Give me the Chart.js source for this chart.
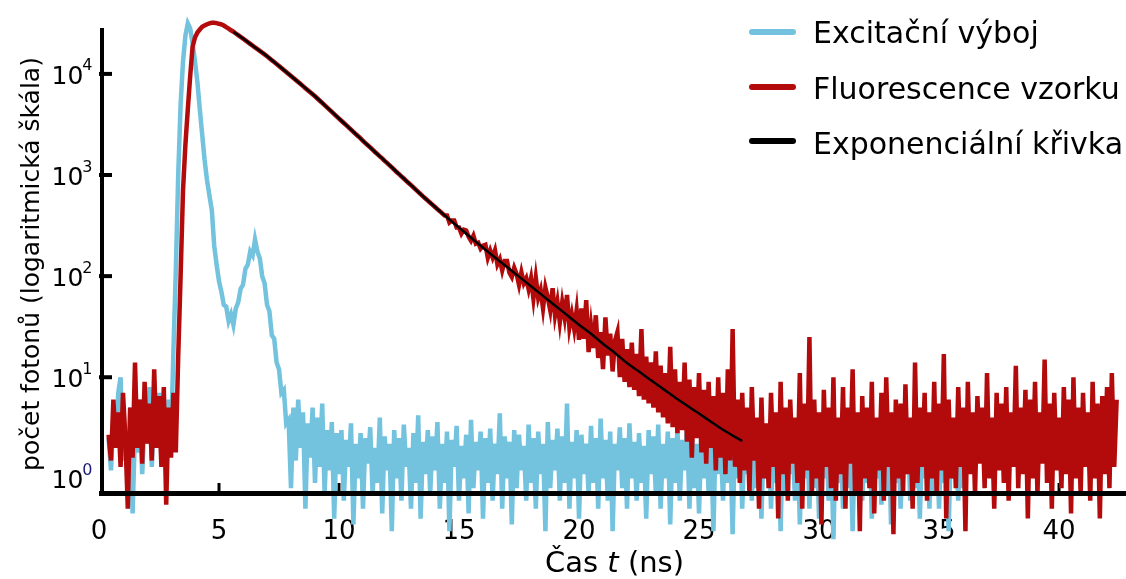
<!DOCTYPE html>
<html>
<head>
<meta charset="utf-8">
<script src="https://cdn.jsdelivr.net/npm/chart.js@4.4.1/dist/chart.umd.min.js"></script>
<style>html,body{margin:0;padding:0;background:#fff}canvas{display:block}</style>
</head>
<body>
<canvas id="c" width="1126" height="579"></canvas>
<script>
// ---- data ----
const timeStart = 0.4;   // ns, first time bin
const timeStep = 0.1;    // ns, bin width
const xTicks = [0, 5, 10, 15, 20, 25, 30, 35, 40];
const yTicks = [1, 10, 100, 1000, 10000];
const seriesLabels = ['Excitační výboj', 'Fluorescence vzorku', 'Exponenciální křivka'];
const xTitleParts = ['Čas ', 't', ' (ns)'];
const yTitle = 'počet fotonů (logaritmická škála)';

// Excitation pulse, 0.4 ns ... 36.2 ns
const excitation = [
 2.5,1.2,4,2,7,10,1.5,3,0.8,5,0.45,3,1.8,6,1.1,4,2.2,8,1.3,5,2,7,1.5,3.5,1,6,2.5,
 18,112,1000,5000,13200,24000,31600,28200,20000,13200,8300,4470,2500,1410,890,630,450,200,130,89,
 70,52,50,36,42,33,48,55,75,82,118,130,175,160,230,175,150,100,85,52,45,26,24,14,12,7,7.5,3.5,3.8,
 0.8,5,1.5,6,2,4.5,0.5,3.5,1.6,5,0.9,4,1.3,5.5,0.7,3,1.2,3.6,0.4,2.8,
 1.1,3,0.6,2.4,1.3,3.5,0.35,2.2,1,2.8,
 0.5,2.5,1.4,3.2,0.7,2,0.9,4,0.45,2.6,
 1.2,2.2,0.3,3,1,2.5,0.6,3.4,1.3,2,
 0.5,2.8,0.9,4.2,0.4,2.3,1.1,3,0.7,2.6,
 1.2,3.6,0.5,2.2,0.9,2.9,0.3,2.4,1.3,3.3,
 0.6,2.1,1,2.7,0.45,3.8,0.8,2.3,1.2,2.9,
 0.4,2.5,0.9,3.1,0.6,2.2,1.1,4.4,0.5,2.6,
 1,2.3,0.35,3,0.8,2.7,1.2,2.1,0.6,3.4,
 0.9,2.5,0.5,2.9,1.1,2.2,0.3,3.6,0.8,2.4,
 1.2,3.1,0.6,2.6,0.9,5.5,0.5,2.3,1,3,
 0.4,2.7,1.1,2.2,0.7,3.3,0.9,2.5,0.5,3.9,
 1,2.4,0.6,2.9,0.3,2.2,1.2,3.2,0.8,2.5,
 0.5,3.5,1,2.3,0.6,2.8,0.9,2.1,0.4,3,
 1.1,2.6,0.7,3.4,0.5,2.2,1,2.9,0.35,2.5,
 0.9,3.1,0.6,2.4,1.2,3.6,0.5,2.7,0.8,2.2,
 0.45,2.9,1,3.3,0.7,2.5,0.3,3,1.1,2.4,
 0.6,3.2,0.9,2.3,0.28,2.8,1,3.5,0.5,2.6,
 1.1,2.4,0.6,3,0.8,2.2,0.4,2.7,1,3.1,
 0.5,2.5,0.9,2.1,0.3,3.3,0.7,2.6,1.1,2.3,
 0.6,2.9,0.35,2.2,1,3.5,0.5,2.4,0.8,2.8,
 0.4,2.6,1,3.2,0.6,2.3,0.25,2.9,0.9,2.5,
 0.5,3.4,0.8,2.2,0.3,2.7,1.1,3,0.6,2.4,
 0.9,2.8,0.4,2.5,1,3.6,0.55,2.2,0.7,3.1,
 0.35,2.4,0.9,2.9,0.5,2.3,1.1,3.3,0.6,2.6,
 0.8,3,0.4,2.5,1,2.2,0.5,3.4,0.7,2.7,
 0.5,2.4,0.9,3.1,0.3,2.6,1,2.2,0.6,2.9,
 0.8,2.3,1.2
];

// Sample fluorescence, 0.4 ns ... 42.4 ns
const fluorescence = [
 2.7,1.5,6,2,4.5,1.3,7,2.5,0.5,5,1.6,14,2,6,1.4,9,2.2,5.5,1.5,12,2,6.5,1.3,8,0.55,5,1.6,7,1.8,
 16,100,700,2000,4470,9550,18600,22900,25700,27500,29200,30200,31000,31600,32000,32100,31800,31300,30900,30100,29000,28050,27000,
 26120,25120,24150,23230,22390,21480,20650,19820,19050,18280,
 17580,16900,16220,15600,14960,14320,13680,13090,12500,11970,
 11430,10910,10450,9980,9530,9100,8690,8300,7930,7570,
 7230,6900,6590,6300,6010,5710,5430,5160,4910,4670,
 4440,4220,4010,3810,3620,3440,3270,3110,2960,2810,
 2670,2540,2420,2300,2180,2070,1970,1880,1780,1690,
 1610,1530,1460,1380,1320,1250,1190,1130,1070,1020,
 970,923,877,834,793,753,716,681,647,615,
 586,558,532,507,483,460,439,418,398,
 398,339,355,355,302,302,263,288,282,245,224,251,209,214,187,200,
 204,152,179,153,180,131,147,114,141,141,108,98,121,105,82,109,85,95,74,
 95,60,96,61,73,48,77,61,46,76,41,56,35,55,39,65,31,42,30,46,
 23.4,48,24,58,17.7,32,19.5,41,15.5,28,12,39,16.4,27,11.4,23,
 28,10,24,9,19,8,22,7.5,17,6.5,30,6,16,5.5,14,5,18,4.5,13,4,
 11,3.5,20,3.2,12,2.8,9,3,14,2.3,9.5,1.6,8,2.5,11,1.8,7.5,1.4,9,2,
 6.5,1.2,10,1.6,7,1.1,12,1.5,30,1.3,6,0.9,7,
 1.2,5,0.7,8,1.5,4,0.5,6.3,1,3.5,
 0.8,7,1.3,4.5,0.4,9,1.1,5,0.6,6,
 1.4,4,0.9,11,0.5,5.5,1.2,25,0.7,6,
 1,4.5,0.35,7.5,1.3,5,0.8,10,0.6,4,
 1.1,8,0.5,5,1.4,12,0.7,4.5,0.3,6.5,
 1,5,0.8,9,0.45,4,1.2,7,0.6,10,
 1.3,4.5,0.28,6,1,5.5,0.7,8.5,1.1,4,
 0.5,14,0.9,5,1.3,7,0.6,4.5,1,9,
 0.7,5.5,1.2,17,0.4,6,1,4,0.8,8,
 1.3,5,0.3,9,1.1,4.5,0.7,6.5,1.4,5,
 0.8,11,1,4,0.5,7,1.2,5.5,0.9,8,
 0.6,4.5,1.3,13,0.8,5,1.1,7.5,0.4,6,
 1,9,0.7,4.5,1.4,15,0.9,5.5,0.5,7,
 1.2,4,0.8,8,1.1,6,0.45,10,1,5,
 0.7,7,1.3,4.5,0.6,9,1,5.5,0.4,6.5,
 1.1,8,0.8,11,1.3,6
];

// Exponential fit curve
const fitTime = [5.6,6,6.5,7,7.5,8,8.5,9,9.5,10,10.5,11,11.5,12,12.5,13,13.5,14,14.5,15,15.5,16,16.5,17,17.5,18,18.5,19,19.5,20,20.5,21,21.5,22,22.5,23,23.5,24,24.5,25,25.5,26,26.5,26.8];
const fitCounts = [26100,22390,18280,14960,11970,9530,7570,6010,4670,3620,2810,2180,1690,1320,1020,793,615,483,380,302,240,191,153,123,98.9,79.4,63.8,51.3,41.2,33.1,26.9,21.4,17.4,13.8,11.4,9.33,7.67,6.31,5.25,4.37,3.63,3.02,2.57,2.34];

// ---- chart ----
const BLUE = '#73c2de';
const RED = '#b30b0c';
const BLACK = '#000000';
const FONT = "'DejaVu Sans', Verdana, sans-serif";

const toPoints = (arr) => arr.map((v, i) => ({ x: Math.round((timeStart + timeStep * i) * 10) / 10, y: v }));

const decor = {
  id: 'decor',
  beforeDatasetsDraw(chart) {
    const { ctx, scales: { x, y } } = chart;
    ctx.save();
    ctx.strokeStyle = '#000';
    ctx.lineCap = 'butt';
    ctx.lineWidth = 3;
    xTicks.forEach(v => {
      if (v === 0) return;
      const px = x.getPixelForValue(v);
      ctx.beginPath(); ctx.moveTo(px, y.bottom); ctx.lineTo(px, y.bottom - 11); ctx.stroke();
    });
    ctx.lineWidth = 4;
    yTicks.forEach(v => {
      if (v === 1) return;
      const py = y.getPixelForValue(v);
      ctx.beginPath(); ctx.moveTo(x.left, py); ctx.lineTo(x.left + 13, py); ctx.stroke();
    });
    ctx.restore();
  },
  afterDatasetsDraw(chart) {
    const { ctx, scales: { x, y } } = chart;
    ctx.save();
    // axis lines (on top of the data)
    ctx.strokeStyle = '#000';
    ctx.lineWidth = 5;
    ctx.beginPath(); ctx.moveTo(x.left, y.bottom - 0.5); ctx.lineTo(chart.width, y.bottom - 0.5); ctx.stroke();
    ctx.lineWidth = 4;
    ctx.beginPath(); ctx.moveTo(x.left + 3, y.top); ctx.lineTo(x.left + 3, y.bottom + 2); ctx.stroke();

    // y tick labels 10^n
    yTicks.forEach(v => {
      const py = y.getPixelForValue(v);
      const exp = String(Math.round(Math.log10(v)));
      ctx.font = '25px ' + FONT;
      ctx.fillStyle = '#000';
      ctx.textAlign = 'left';
      ctx.textBaseline = 'alphabetic';
      const bx = 51.5;
      ctx.fillText('10', bx, py + 10);
      const w = ctx.measureText('10').width;
      ctx.font = '16px ' + FONT;
      ctx.fillStyle = v === 1 ? '#1c1c78' : '#000';
      ctx.fillText(exp, bx + w - 1, py - 3.5);
    });

    // y title
    ctx.save();
    ctx.translate(39, (y.top + y.bottom) / 2 + 3);
    ctx.rotate(-Math.PI / 2);
    ctx.font = '25px ' + FONT;
    ctx.fillStyle = '#000';
    ctx.textAlign = 'center';
    ctx.textBaseline = 'alphabetic';
    ctx.fillText(yTitle, 0, 0);
    ctx.restore();

    // x title with italic t
    const fonts = ['29px ' + FONT, 'italic 29px ' + FONT, '29px ' + FONT];
    let total = 0;
    const widths = xTitleParts.map((s, i) => { ctx.font = fonts[i]; const w = ctx.measureText(s).width; total += w; return w; });
    let tx = (x.left + chart.width) / 2 + 2 - total / 2;
    ctx.fillStyle = '#000';
    ctx.textAlign = 'left';
    ctx.textBaseline = 'alphabetic';
    xTitleParts.forEach((s, i) => { ctx.font = fonts[i]; ctx.fillText(s, tx, 572); tx += widths[i]; });

    // legend
    const colors = [BLUE, RED, BLACK];
    const lineYs = [32, 87, 141];
    const textYs = [43, 99, 154];
    ctx.lineCap = 'round';
    ctx.lineWidth = 6;
    seriesLabels.forEach((lab, i) => {
      ctx.strokeStyle = colors[i];
      ctx.beginPath(); ctx.moveTo(752, lineYs[i]); ctx.lineTo(793, lineYs[i]); ctx.stroke();
      ctx.font = '30px ' + FONT;
      ctx.fillStyle = '#000';
      ctx.fillText(lab, 813, textYs[i]);
    });
    ctx.restore();
  }
};

new Chart(document.getElementById('c'), {
  type: 'line',
  data: {
    datasets: [
      { label: seriesLabels[0], data: toPoints(excitation), borderColor: BLUE, borderWidth: 4.5, order: 3 },
      { label: seriesLabels[1], data: toPoints(fluorescence), borderColor: RED, borderWidth: 4.5, order: 2 },
      { label: seriesLabels[2], data: fitTime.map((t, i) => ({ x: t, y: fitCounts[i] })), borderColor: BLACK, borderWidth: 2.5, order: 1, cubicInterpolationMode: 'monotone' }
    ]
  },
  options: {
    responsive: false,
    devicePixelRatio: 1,
    animation: false,
    events: [],
    layout: { padding: { top: 28, right: 0, left: 0, bottom: 0 } },
    datasets: { line: { clip: false, pointRadius: 0, borderJoinStyle: 'miter', fill: false } },
    plugins: { legend: { display: false }, tooltip: { enabled: false } },
    scales: {
      x: {
        type: 'linear', min: 0, max: 42.79,
        grid: { display: false, drawTicks: false },
        border: { display: false },
        ticks: { font: { family: FONT, size: 26 }, color: '#000', padding: 23, maxRotation: 0, autoSkip: false },
        afterBuildTicks: (s) => { s.ticks = xTicks.map(v => ({ value: v })); },
        afterFit: (s) => { s.height = 85; }
      },
      y: {
        type: 'logarithmic', min: 0.727, max: 28450,
        grid: { display: false, drawTicks: false },
        border: { display: false },
        ticks: { display: false },
        afterBuildTicks: (s) => { s.ticks = yTicks.map(v => ({ value: v })); },
        afterFit: (s) => { s.width = 99; }
      }
    }
  },
  plugins: [decor]
});
</script>
</body>
</html>
